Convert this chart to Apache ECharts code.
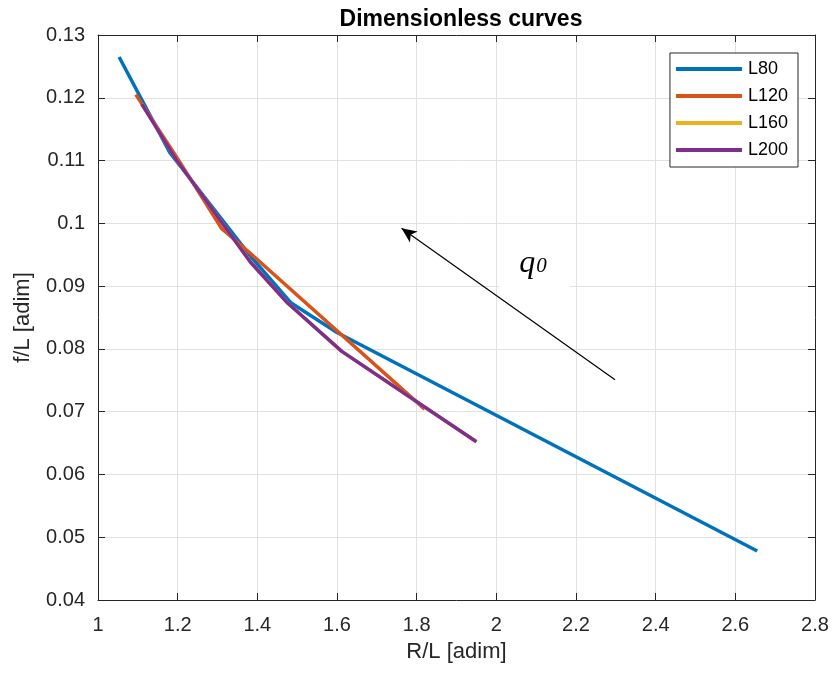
<!DOCTYPE html>
<html>
<head>
<meta charset="utf-8">
<script src="https://cdn.jsdelivr.net/npm/echarts@6/dist/echarts.min.js"></script>
<style>
html,body{margin:0;padding:0;background:#fff;}
#chart{width:834px;height:675px;}
</style>
</head>
<body>
<div id="chart"></div>
<script>
// ---- data ----
const seriesNames = ['L80', 'L120', 'L160', 'L200'];
const L80_x  = [1.053, 1.18, 1.385, 1.485, 1.6, 2.655];
const L80_y  = [0.1265, 0.1113, 0.0946, 0.0873, 0.0826, 0.0478];
const L120_x = [1.095, 1.2, 1.31, 1.383, 1.82];
const L120_y = [0.1205, 0.1103, 0.0992, 0.0952, 0.0704];
const L160_x = [1.11, 1.195, 1.383, 1.476, 1.612, 1.95];
const L160_y = [0.1190, 0.1103, 0.0938, 0.0873, 0.0796, 0.0652];
const L200_x = [1.11, 1.195, 1.383, 1.476, 1.612, 1.95];
const L200_y = [0.1190, 0.1103, 0.0938, 0.0873, 0.0796, 0.0652];
const xTicks = [1, 1.2, 1.4, 1.6, 1.8, 2, 2.2, 2.4, 2.6, 2.8];
const yTicks = [0.04, 0.05, 0.06, 0.07, 0.08, 0.09, 0.1, 0.11, 0.12, 0.13];
const arrowFrom = [2.298, 0.0751];
const arrowTo = [1.762, 0.0992];
const qLabelPos = [2.092, 0.0936];
const qBoxCorners = [[2.008, 0.0968], [2.185, 0.0886]];
const titleText = 'Dimensionless curves';
const xName = 'R/L [adim]';
const yName = 'f/L [adim]';

const colors = ['#0072BD', '#D95319', '#EDB120', '#7E2F8E'];
const FONT = 'Liberation Sans, Arial, Helvetica, sans-serif';
const AX = '#262626';

function zip(xs, ys) { return xs.map((x, i) => [x, ys[i]]); }
const allData = [zip(L80_x, L80_y), zip(L120_x, L120_y), zip(L160_x, L160_y), zip(L200_x, L200_y)];

const chart = echarts.init(document.getElementById('chart'), null, {renderer: 'canvas'});

function axisCommon(show) {
  return {
    type: 'value',
    axisLine: {show: true, onZero: false, lineStyle: {color: AX, width: 1}},
    axisTick: {show: true, inside: true, length: 7, lineStyle: {color: AX}},
    axisLabel: {show: show},
    splitLine: {show: false}
  };
}

const series = seriesNames.map((n, i) => {
  const s = {
    name: n,
    type: 'line',
    data: allData[i],
    showSymbol: false,
    symbol: 'none',
    lineStyle: {color: colors[i], width: 3.5},
    itemStyle: {color: colors[i]},
    z: 2 + i,
    animation: false
  };
  if (i === 0) {
    s.markLine = {
      silent: true,
      animation: false,
      symbol: ['none', 'arrow'],
      symbolSize: [10, 15],
      label: {show: false},
      lineStyle: {color: '#000', width: 1.2, type: 'solid'},
      z: 20,
      data: [[{coord: arrowFrom}, {coord: arrowTo}]]
    };
  }
  return s;
});

const option = {
  animation: false,
  backgroundColor: '#fff',
  title: {
    text: titleText,
    left: 456, top: 3, textAlign: 'center',
    textStyle: {fontFamily: FONT, fontSize: 23, fontWeight: 'bold', color: '#000'}
  },
  grid: {left: 98, right: 19, top: 35, bottom: 75, containLabel: false},
  legend: {
    orient: 'vertical',
    right: 36, top: 53,
    padding: [7, 10, 8, 6],
    itemGap: 9,
    itemWidth: 66, itemHeight: 4,
    icon: 'rect',
    borderColor: AX, borderWidth: 1,
    backgroundColor: '#fff',
    data: seriesNames,
    textStyle: {fontFamily: FONT, fontSize: 18, color: '#000', padding: [0, 0, 0, 1]}
  },
  xAxis: [
    Object.assign(axisCommon(true), {
      position: 'bottom', min: xTicks[0], max: xTicks[xTicks.length - 1], interval: 0.2,
      axisLabel: {show: true, fontFamily: FONT, fontSize: 20, color: AX, margin: 15,
        formatter: v => String(Math.round(v * 10) / 10)},
      splitLine: {show: true, lineStyle: {color: '#e1e1e1', width: 1}},
      name: xName, nameLocation: 'middle', nameGap: 41,
      nameTextStyle: {fontFamily: FONT, fontSize: 22, color: AX}
    }),
    Object.assign(axisCommon(false), {
      position: 'top', min: xTicks[0], max: xTicks[xTicks.length - 1], interval: 0.2
    })
  ],
  yAxis: [
    Object.assign(axisCommon(true), {
      position: 'left', min: yTicks[0], max: yTicks[yTicks.length - 1], interval: 0.01,
      axisLabel: {show: true, fontFamily: FONT, fontSize: 20, color: AX, margin: 13,
        formatter: v => String(Math.round(v * 100) / 100)},
      splitLine: {show: true, lineStyle: {color: '#e1e1e1', width: 1}},
      name: yName, nameLocation: 'middle', nameGap: 64,
      nameTextStyle: {fontFamily: FONT, fontSize: 22, color: AX}
    }),
    Object.assign(axisCommon(false), {
      position: 'right', min: yTicks[0], max: yTicks[yTicks.length - 1], interval: 0.01
    })
  ],
  series: series
};

chart.setOption(option);

// annotation: "q0" label with white box, placed through the chart's own scales
const p0 = chart.convertToPixel({gridIndex: 0}, qBoxCorners[0]);
const p1 = chart.convertToPixel({gridIndex: 0}, qBoxCorners[1]);
const pq = chart.convertToPixel({gridIndex: 0}, qLabelPos);
chart.setOption({
  graphic: [
    {
      type: 'rect', z: 10, silent: true,
      shape: {x: Math.min(p0[0], p1[0]), y: Math.min(p0[1], p1[1]),
              width: Math.abs(p1[0] - p0[0]), height: Math.abs(p1[1] - p0[1])},
      style: {fill: '#fff'}
    },
    {
      type: 'text', z: 11, silent: true,
      x: pq[0], y: pq[1],
      style: {
        text: '{q|q}{s|0}',
        align: 'center', verticalAlign: 'middle',
        rich: {
          q: {fontFamily: 'Liberation Serif, Times New Roman, serif', fontStyle: 'italic', fontSize: 32, fill: '#000'},
          s: {fontFamily: 'Liberation Serif, Times New Roman, serif', fontStyle: 'italic', fontSize: 21, fill: '#000', padding: [6, 0, 0, 1]}
        }
      }
    }
  ]
});
</script>
</body>
</html>
